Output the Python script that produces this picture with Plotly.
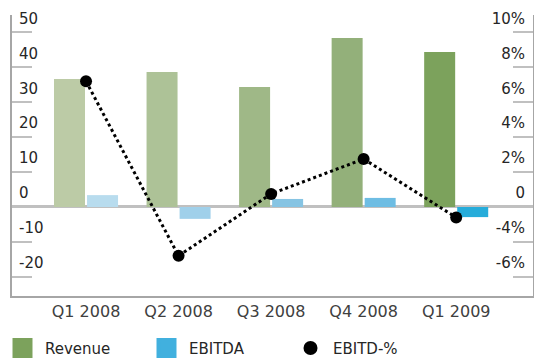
import plotly.graph_objects as go

quarters = ["Q1 2008", "Q2 2008", "Q3 2008", "Q4 2008", "Q1 2009"]
revenue = [36.7, 38.7, 34.4, 48.4, 44.4]
ebitda = [3.4, -3.4, 2.3, 2.6, -2.9]
ebitda_pct = [7.2, -2.8, 0.75, 2.75, -0.6]

left_ticks = [50, 40, 30, 20, 10, 0, -10, -20]
left_labels = ["50", "40", "30", "20", "10", "0", "-10", "-20"]
right_ticks = [10, 8, 6, 4, 2, 0, -2, -4]
right_labels = ["10%", "8%", "6%", "4%", "2%", "0", "-4%", "-6%"]

rev_colors = ["#bccba6", "#adc297", "#9fb887", "#93b07a", "#7ca25c"]
ebit_colors = ["#b8dcee", "#a0d0ea", "#86c4e3", "#6ebde3", "#26acda"]

xs = list(range(len(quarters)))
FONT = "DejaVu Sans"

fig = go.Figure()
fig.add_trace(go.Bar(x=xs, y=revenue, width=0.335, offset=-0.346,
                     marker=dict(color=rev_colors, line=dict(width=0)),
                     showlegend=False, name="Revenue"))
fig.add_trace(go.Bar(x=xs, y=ebitda, width=0.335, offset=0.011,
                     marker=dict(color=ebit_colors, line=dict(width=0)),
                     showlegend=False, name="EBITDA"))
fig.add_trace(go.Scatter(x=xs, y=ebitda_pct, yaxis="y2", mode="lines+markers",
                         line=dict(color="black", width=3, dash="3px,3px"),
                         marker=dict(color="black", size=12),
                         showlegend=False, name="EBITD-%"))
# legend entries
fig.add_trace(go.Scatter(x=[None], y=[None], mode="markers", name="Revenue",
                         marker=dict(symbol="square", size=16, color="#7ca25c",
                                     line=dict(width=4, color="#7ca25c"))))
fig.add_trace(go.Scatter(x=[None], y=[None], mode="markers", name="EBITDA",
                         marker=dict(symbol="square", size=16, color="#41b0de",
                                     line=dict(width=4, color="#41b0de"))))
fig.add_trace(go.Scatter(x=[None], y=[None], mode="markers", name="EBITD-%",
                         marker=dict(symbol="circle", size=14, color="black")))

fig.update_layout(
    width=534, height=359,
    margin=dict(l=12, r=1, t=15, b=63),
    paper_bgcolor="white", plot_bgcolor="white",
    font=dict(family=FONT, size=15, color="#262626"),
    barmode="overlay",
    xaxis=dict(range=[-0.80, 4.83], tickvals=xs, ticktext=quarters,
               showgrid=False, zeroline=False, showline=True,
               linecolor="#a6a6a6", linewidth=2, ticks="",
               tickfont=dict(size=16, color="#404040")),
    yaxis=dict(range=[-25.5, 55], tickvals=left_ticks, ticktext=left_labels,
               showgrid=False, zeroline=True, zerolinecolor="#c0c0c0", zerolinewidth=3,
               showline=True, linecolor="#a6a6a6", linewidth=2,
               ticks="inside", ticklen=20, tickwidth=2, tickcolor="#c0c0c0",
               ticklabelposition="inside", ticklabelshift=-14,
               ticklabelstandoff=-13, ticklabeloverflow="allow",
               tickfont=dict(size=15, color="#262626")),
    yaxis2=dict(range=[-5.1, 11], overlaying="y", side="right",
                tickvals=right_ticks, ticktext=right_labels,
                showgrid=False, zeroline=False,
                showline=True, linecolor="#a6a6a6", linewidth=2,
                ticks="inside", ticklen=20, tickwidth=2, tickcolor="#c0c0c0",
                ticklabelposition="inside", ticklabelshift=-14,
                ticklabelstandoff=-12, ticklabeloverflow="allow",
                tickfont=dict(size=15, color="#262626")),
    legend=dict(orientation="h", xref="container", yref="container",
                x=0, y=0.03, xanchor="left", yanchor="middle",
                entrywidth=94, entrywidthmode="pixels", itemwidth=35,
                itemsizing="trace", font=dict(size=15, color="#262626"),
                bgcolor="rgba(0,0,0,0)"),
)

fig.write_html("out.html")
